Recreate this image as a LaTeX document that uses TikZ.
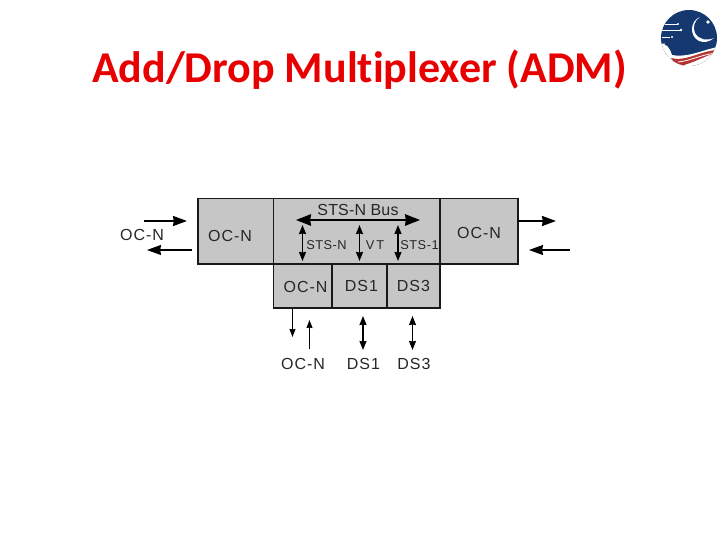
\documentclass[tikz,border=0pt]{standalone}
\usepackage{fontspec}
\setmainfont{Liberation Sans}
\newfontfamily\titlefont[Ligatures=CommonOff]{Carlito}
\newfontfamily\lblfont[LetterSpace=6]{Liberation Sans}
\newfontfamily\busfont[LetterSpace=1]{Liberation Sans}
\newfontfamily\subfont[LetterSpace=4]{Liberation Sans}
\newfontfamily\vtfont[LetterSpace=14]{Liberation Sans}
\usetikzlibrary{arrows.meta}
\definecolor{boxgray}{HTML}{C6C6C6}
\definecolor{titlered}{HTML}{E80000}
\definecolor{logoblue}{HTML}{14386F}
\definecolor{logored}{HTML}{B5332E}
\tikzset{
  unitbox/.style={draw=black!90,line width=1.7pt,fill=boxgray,inner sep=0pt,outer sep=0pt},
  lbl/.style={inner sep=0pt,text=black!85,font=\lblfont\fontsize{16}{18}\selectfont},
  buslbl/.style={inner sep=0pt,text=black!85,font=\busfont\fontsize{16}{18}\selectfont},
  sublbl/.style={inner sep=0pt,text=black!85,font=\subfont\fontsize{12.8}{14}\selectfont},
  vtlbl/.style={inner sep=0pt,text=black!85,font=\vtfont\fontsize{12.8}{14}\selectfont},
  bigarrow/.style={draw=black,line width=1.8pt,-{Stealth[length=14pt,width=10pt,inset=0.8pt]}},
  bigback/.style={draw=black,line width=1.2pt,-{Stealth[length=14pt,width=10pt,inset=0.8pt]}},
  busarrow/.style={draw=black,line width=1.8pt,{Stealth[length=15pt,width=11.5pt,inset=0.8pt]}-{Stealth[length=15pt,width=11.5pt,inset=0.8pt]}},
  vertdbl/.style={draw=black,line width=1.5pt,{Stealth[length=9pt,width=7pt,inset=0.5pt]}-{Stealth[length=9pt,width=7pt,inset=0.5pt]}},
  thinarrow/.style={draw=black,line width=1.1pt,-{Stealth[length=8pt,width=6pt,inset=0.5pt]}}
}
\begin{document}
\begin{tikzpicture}[x=1pt,y=-1pt]
\useasboundingbox (0,0) rectangle (720,540);
\node[font=\titlefont\bfseries\fontsize{44}{48}\selectfont,text=titlered,inner sep=0pt] (title) at (359.5,69.5) {Add/Drop Multiplexer (ADM)};
% logo
\fill[logoblue] (689,38) circle (28);
\begin{scope}
\clip (689,38) circle (28);
\fill[white] (658,44) .. controls (666,42) and (670,48) .. (672,55) .. controls (688,58) and (702,50) .. (718,47) -- (720,70) -- (658,70) -- cycle;
\fill[logored] (671,58) .. controls (685,62) and (698,52) .. (716,50) -- (716,53) .. controls (704,56) and (694,63) .. (680,66) .. controls (676,64) and (673,61) .. (671,58) -- cycle;
\draw[white,line width=0.8pt] (678,62) .. controls (690,61) and (700,55) .. (716,53);
\end{scope}
\fill[white] (700,17) .. controls (690,21) and (689,36) .. (699,41) .. controls (704,43) and (709,42) .. (714,38) .. controls (707,41) and (699,40) .. (695,33) .. controls (692,27) and (695,20) .. (700,17) -- cycle;
\fill[white] (708,22) circle (1.8);
\foreach \a/\b/\c in {665/678/24, 662/680/30, 662/670/37}{\draw[white,line width=0.5pt] (\a,\c) -- (\b,\c);}
\fill[white] (678,24) circle (1.1) (681,30) circle (1.3) (672,37) circle (1.1) (664,44) circle (0.8);
% boxes
\node[unitbox,minimum width=75.5pt,minimum height=65.5pt] (lbox) at (235.75,231.25) {};
\node[unitbox,minimum width=166.5pt,minimum height=65.5pt] (mbox) at (356.75,231.25) {};
\node[unitbox,minimum width=78pt,minimum height=65.5pt] (rbox) at (479,231.25) {};
\node[unitbox,minimum width=58.5pt,minimum height=44pt] (oc) at (302.75,286) {};
\node[unitbox,minimum width=55pt,minimum height=44pt] (ds1) at (359.5,286) {};
\node[unitbox,minimum width=53pt,minimum height=44pt] (ds3) at (413.5,286) {};
% box labels
\node[lbl] (tl) at (230,235.5) {OC-N};
\node[lbl] (tr) at (479,233) {OC-N};
\node[buslbl] (tbus) at (358,210) {STS-N Bus};
\node[sublbl] (tsn) at (326.5,245) {STS-N};
\node[vtlbl] (tvt) at (375,245) {VT};
\node[sublbl] (ts1) at (419.5,245) {STS-1};
\node[lbl] (toc) at (305.5,286.5) {OC-N};
\node[lbl] (tds1) at (361.5,285.5) {DS1};
\node[lbl] (tds3) at (413.5,285.5) {DS3};
% outer labels
\node[lbl] (eocl) at (142,235) {OC-N};
\node[lbl] (eocb) at (303,364) {OC-N};
\node[lbl] (eds1) at (363.5,364) {DS1};
\node[lbl] (eds3) at (414,364) {DS3};
% free ends
\coordinate (a1) at (144,221);
\coordinate (a2) at (187,221);
\coordinate (b1) at (192,250);
\coordinate (b2) at (147,250);
\coordinate (c1) at (518,221);
\coordinate (c2) at (556,221);
\coordinate (d1) at (570,250);
\coordinate (d2) at (529,250);
\coordinate (bus1) at (296,220);
\coordinate (bus2) at (420,220);
\coordinate (v1a) at (302.5,225);
\coordinate (v1b) at (302.5,261);
\coordinate (v2a) at (359.5,225);
\coordinate (v2b) at (359.5,261);
\coordinate (v3a) at (398,225);
\coordinate (v3b) at (398,261);
\coordinate (e1a) at (292.5,308);
\coordinate (e1b) at (292.5,337);
\coordinate (e2a) at (309.5,349);
\coordinate (e2b) at (309.5,320);
\coordinate (e3a) at (363,316);
\coordinate (e3b) at (363,350);
\coordinate (e4a) at (412.5,316);
\coordinate (e4b) at (412.5,350);
% connectors
\draw[bigarrow] (a1) -- (a2);
\draw[bigback] (b1) -- (b2);
\draw[bigarrow] (c1) -- (c2);
\draw[bigback] (d1) -- (d2);
\draw[busarrow] (bus1) -- (bus2);
\draw[vertdbl] (v1a) -- (v1b);
\draw[vertdbl] (v2a) -- (v2b);
\draw[vertdbl] (v3a) -- (v3b);
\draw[thinarrow] (e1a) -- (e1b);
\draw[thinarrow] (e2a) -- (e2b);
\draw[vertdbl] (e3a) -- (e3b);
\draw[vertdbl,line width=1.1pt] (e4a) -- (e4b);
\end{tikzpicture}
\end{document}
